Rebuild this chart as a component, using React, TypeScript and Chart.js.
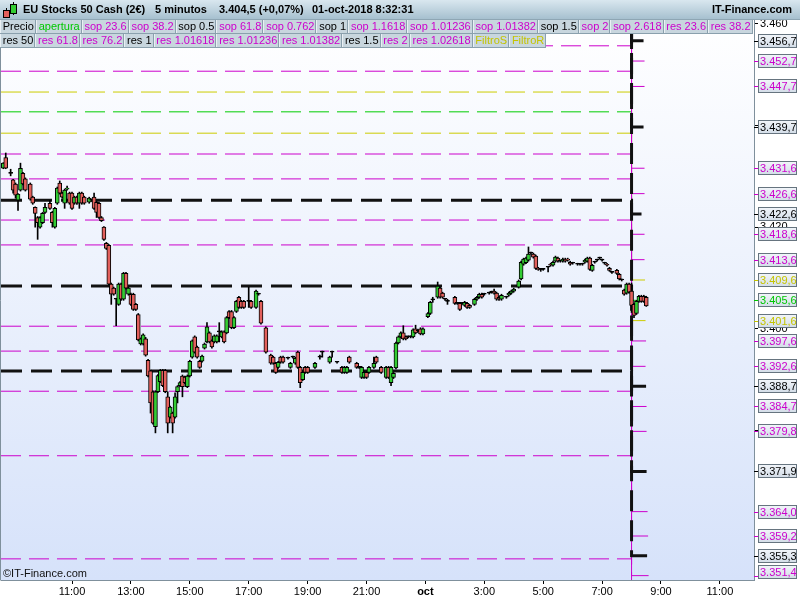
import React, { useEffect, useRef } from 'react';
import { Chart, registerables } from 'chart.js';

Chart.register(...registerables);

const FONT = "'Liberation Sans', Arial, Helvetica, sans-serif";

// ---------- time axis: trading hours counted from Friday 11:00 (Fri 22:00 joins Mon 00:00)
const firstSlotHour = -7 / 3; // Friday 08:40
const slotHours = 1 / 12; // 5 minutes
const xMin = -2.411;
const xMax = 23.158;
const timeTickHours = [0, 2, 4, 6, 8, 10, 12, 14, 16, 18, 20, 22];
const timeTickLabels = ['11:00', '13:00', '15:00', '17:00', '19:00', '21:00', 'oct', '3:00', '5:00', '7:00', '9:00', '11:00'];

// ---------- price axis
const yMin = 3350.54;
const yMax = 3460.78;
const priceTicks = [3460, 3440, 3420, 3400, 3380];

// ---------- support / resistance levels (previous session -> today from 08:00)
const levelSwitchHour = 19; // Monday 08:00
const levelEndHour = 19.6;
const levelKinds = [
  'black', 'black', 'black', 'black', 'black', 'black',
  'magenta', 'magenta', 'magenta', 'magenta', 'magenta', 'magenta', 'magenta', 'magenta',
  'magenta', 'magenta', 'magenta', 'magenta', 'magenta', 'magenta', 'magenta',
  'yellow', 'yellow', 'green',
];
const levelPrev = [
  3493.8, 3476.8, 3460.1, 3425.3, 3408.4, 3391.7,
  3489.8, 3484.8, 3468.7, 3463.7, 3455.7, 3450.7, 3434.4, 3429.5,
  3421.4, 3416.5, 3400.5, 3395.6, 3387.7, 3375.0, 3354.7,
  3446.6, 3438.5, 3442.7,
];
const levelToday = [
  3456.7, 3439.7, 3422.6, 3388.7, 3371.9, 3355.3,
  3452.7, 3447.7, 3431.6, 3426.6, 3418.6, 3413.6, 3397.6, 3392.6,
  3384.7, 3379.8, 3364.0, 3359.2, 3351.4, 3338.0, 3317.6,
  3409.6, 3401.6, 3405.6,
];

// ---------- candles: [slot, open, high, low, close]
const fridayBars: number[][] = [
  [0, 3431.6, 3432.7, 3431.5, 3432.6], [1, 3433.7, 3434.6, 3431.5, 3431.6], [3, 3430.6, 3431.4, 3430.1, 3430.6],
  [4, 3429.3, 3429.4, 3426.7, 3427.3], [5, 3428.5, 3428.7, 3425.7, 3426.3], [6, 3425.3, 3426.6, 3423.3, 3426.5],
  [7, 3427.3, 3432.6, 3427.1, 3431.6], [8, 3430.6, 3430.8, 3428.3, 3428.5], [9, 3429.5, 3429.7, 3427.1, 3427.3],
  [11, 3428.5, 3428.7, 3425.3, 3425.5], [12, 3425.9, 3426.1, 3424.5, 3424.7], [13, 3423.9, 3424.0, 3420.0, 3422.7],
  [14, 3421.9, 3422.1, 3417.6, 3420.9], [15, 3420.0, 3422.1, 3419.8, 3421.9], [16, 3420.9, 3422.9, 3420.7, 3422.7],
  [17, 3422.9, 3424.7, 3422.7, 3423.9], [19, 3424.7, 3425.3, 3423.5, 3423.7], [20, 3422.9, 3423.1, 3420.0, 3420.9],
  [21, 3420.0, 3423.9, 3419.8, 3423.7], [22, 3424.7, 3427.9, 3424.5, 3427.7], [23, 3428.7, 3429.1, 3426.5, 3426.7],
  [24, 3426.7, 3426.9, 3425.7, 3425.9], [25, 3424.7, 3427.5, 3423.7, 3427.3], [26, 3427.5, 3428.1, 3427.3, 3427.7],
  [27, 3426.7, 3426.9, 3424.5, 3424.7], [28, 3426.7, 3426.9, 3423.5, 3423.7], [29, 3424.7, 3426.1, 3424.5, 3425.9],
  [30, 3425.9, 3426.1, 3424.5, 3424.7], [31, 3424.7, 3426.9, 3423.7, 3426.7], [32, 3426.7, 3426.9, 3424.5, 3424.7],
  [33, 3425.9, 3426.1, 3424.5, 3424.7], [35, 3424.9, 3425.9, 3424.7, 3425.7], [36, 3425.3, 3425.5, 3425.1, 3425.3],
  [37, 3425.9, 3426.7, 3423.5, 3423.7], [38, 3424.9, 3425.1, 3421.9, 3422.9], [39, 3424.7, 3424.9, 3421.7, 3421.9],
  [40, 3421.9, 3422.1, 3421.1, 3421.3], [41, 3420.0, 3420.1, 3417.4, 3417.6], [42, 3416.8, 3417.0, 3415.6, 3415.8],
  [43, 3416.4, 3416.6, 3408.6, 3408.8], [44, 3408.8, 3409.0, 3404.8, 3406.8], [45, 3408.0, 3408.2, 3406.6, 3406.8],
  [46, 3405.8, 3406.0, 3400.6, 3405.8], [47, 3404.8, 3409.0, 3404.6, 3408.8], [48, 3408.8, 3409.0, 3405.6, 3405.8],
  [49, 3405.8, 3411.1, 3405.6, 3410.9], [50, 3410.9, 3411.1, 3407.8, 3408.0], [51, 3406.8, 3408.2, 3406.6, 3408.0],
  [52, 3406.8, 3407.0, 3404.6, 3404.8], [53, 3406.8, 3407.0, 3403.6, 3403.8], [54, 3404.8, 3405.0, 3403.6, 3403.8],
  [55, 3402.8, 3403.0, 3397.6, 3397.8], [56, 3397.0, 3398.2, 3396.8, 3398.0], [57, 3397.0, 3399.0, 3396.8, 3398.8],
  [58, 3398.0, 3398.3, 3394.6, 3394.8], [59, 3393.8, 3394.0, 3390.5, 3390.7], [60, 3391.7, 3391.9, 3383.4, 3385.4],
  [61, 3387.6, 3387.8, 3381.2, 3381.4], [62, 3380.7, 3387.8, 3379.5, 3387.6], [63, 3387.6, 3391.0, 3387.4, 3390.8],
  [64, 3389.6, 3392.0, 3389.4, 3391.8], [65, 3391.8, 3392.0, 3388.6, 3388.8], [66, 3391.8, 3392.0, 3387.4, 3387.6],
  [67, 3386.6, 3387.6, 3379.5, 3381.4], [68, 3382.6, 3384.8, 3382.4, 3384.6], [69, 3383.4, 3383.6, 3379.5, 3381.4],
  [70, 3382.6, 3387.4, 3382.4, 3386.6], [71, 3387.6, 3388.8, 3385.4, 3388.6], [72, 3388.8, 3389.6, 3388.6, 3389.4],
  [73, 3390.7, 3390.9, 3386.6, 3388.6], [74, 3390.5, 3390.7, 3389.2, 3389.4], [75, 3388.6, 3390.9, 3388.4, 3390.7],
  [76, 3390.7, 3393.8, 3390.5, 3393.6], [77, 3394.4, 3397.8, 3394.2, 3397.6], [78, 3398.4, 3398.6, 3395.2, 3395.4],
  [79, 3396.4, 3396.6, 3394.2, 3394.4], [80, 3393.6, 3393.8, 3392.2, 3392.4], [81, 3393.6, 3394.8, 3393.4, 3394.6],
  [82, 3396.2, 3397.2, 3396.0, 3397.0], [83, 3397.4, 3401.2, 3397.2, 3400.4], [84, 3399.2, 3399.4, 3397.2, 3397.4],
  [85, 3397.6, 3397.8, 3396.2, 3396.4], [86, 3397.4, 3398.8, 3397.2, 3398.6], [87, 3397.4, 3398.8, 3397.2, 3398.6],
  [88, 3399.4, 3401.2, 3397.4, 3399.4], [89, 3398.4, 3399.6, 3398.2, 3399.4], [90, 3399.4, 3399.6, 3397.2, 3397.4],
  [91, 3399.2, 3402.4, 3399.0, 3402.2], [92, 3403.4, 3403.6, 3402.0, 3402.2], [93, 3403.4, 3403.6, 3400.0, 3400.2],
  [94, 3400.2, 3402.4, 3400.0, 3402.2], [95, 3403.4, 3405.6, 3403.2, 3405.4], [96, 3406.2, 3406.4, 3404.0, 3404.2],
  [97, 3405.4, 3405.6, 3404.0, 3404.2], [98, 3405.4, 3405.6, 3404.0, 3404.2], [100, 3405.4, 3408.2, 3404.2, 3405.4],
  [101, 3405.4, 3405.6, 3404.0, 3404.2], [103, 3404.2, 3407.6, 3404.0, 3407.4], [104, 3406.8, 3407.0, 3406.6, 3406.8],
  [105, 3405.4, 3405.6, 3400.9, 3401.1], [107, 3400.2, 3400.4, 3395.2, 3395.4], [109, 3394.8, 3395.0, 3393.0, 3393.2],
  [110, 3394.4, 3394.6, 3393.0, 3393.2], [111, 3393.2, 3393.4, 3391.2, 3391.4], [112, 3392.4, 3393.6, 3392.2, 3393.4],
  [113, 3394.4, 3394.6, 3393.2, 3393.4], [114, 3394.4, 3394.6, 3393.2, 3393.4], [116, 3394.2, 3394.4, 3394.0, 3394.2],
  [117, 3392.4, 3393.4, 3392.2, 3393.2], [118, 3394.4, 3394.6, 3394.2, 3394.4], [119, 3393.2, 3394.4, 3393.0, 3394.2],
  [120, 3395.4, 3395.6, 3392.2, 3392.4], [121, 3392.4, 3392.6, 3388.4, 3389.4], [122, 3390.0, 3391.6, 3389.8, 3391.4],
  [123, 3392.4, 3392.6, 3391.2, 3391.4], [124, 3392.4, 3392.6, 3391.2, 3391.4], [127, 3392.4, 3393.4, 3392.2, 3393.2],
  [129, 3394.4, 3394.8, 3394.0, 3394.4], [130, 3395.4, 3395.6, 3394.4, 3395.4], [133, 3393.4, 3394.6, 3393.2, 3394.4],
  [134, 3395.4, 3395.6, 3394.4, 3395.4], [136, 3393.4, 3393.6, 3393.2, 3393.4], [138, 3392.4, 3392.6, 3391.2, 3391.4],
  [139, 3391.4, 3392.6, 3391.2, 3392.4], [140, 3391.4, 3392.6, 3391.2, 3392.4], [141, 3394.4, 3394.6, 3393.2, 3393.4],
  [144, 3393.2, 3393.4, 3392.2, 3392.4], [145, 3392.4, 3392.6, 3392.2, 3392.4], [146, 3390.4, 3392.6, 3390.2, 3392.4],
  [147, 3390.4, 3391.6, 3390.2, 3391.4], [148, 3391.4, 3391.6, 3390.2, 3390.4], [149, 3391.4, 3392.6, 3391.2, 3392.4],
  [151, 3392.4, 3394.4, 3392.2, 3393.2], [152, 3394.4, 3394.6, 3393.2, 3393.4], [154, 3392.4, 3392.6, 3391.2, 3391.4],
  [156, 3390.4, 3392.6, 3390.2, 3392.4], [157, 3392.4, 3392.6, 3390.2, 3390.4], [158, 3389.4, 3392.6, 3388.8, 3392.4],
  [159, 3390.4, 3391.4, 3390.2, 3391.2],
];
const mondayBars: number[][] = [
  [160, 3392.3, 3397.4, 3392.1, 3397.2], [161, 3397.2, 3398.6, 3397.0, 3398.4], [162, 3398.4, 3399.4, 3398.2, 3399.2],
  [163, 3399.2, 3400.6, 3397.8, 3398.0], [164, 3398.4, 3398.6, 3397.8, 3398.0], [165, 3398.4, 3398.6, 3398.2, 3398.4],
  [166, 3398.4, 3398.6, 3398.2, 3398.4], [167, 3398.4, 3400.0, 3398.2, 3399.8], [168, 3400.0, 3400.7, 3399.0, 3399.2],
  [169, 3399.6, 3399.8, 3399.4, 3399.6], [170, 3400.0, 3400.2, 3398.8, 3399.0], [171, 3399.0, 3400.2, 3398.8, 3400.0],
  [173, 3402.4, 3403.2, 3402.2, 3403.0], [174, 3403.0, 3405.4, 3402.8, 3405.2], [175, 3405.7, 3406.2, 3405.2, 3405.7],
  [177, 3406.2, 3409.2, 3406.0, 3408.4], [178, 3408.0, 3408.2, 3406.0, 3406.2], [179, 3407.0, 3407.2, 3406.0, 3406.2],
  [180, 3405.8, 3406.0, 3405.6, 3405.8], [181, 3405.4, 3405.8, 3404.8, 3405.4], [184, 3406.2, 3406.4, 3404.8, 3405.0],
  [185, 3405.0, 3405.2, 3404.8, 3405.0], [186, 3405.0, 3405.2, 3403.6, 3403.8], [187, 3405.0, 3405.2, 3404.8, 3405.0],
  [188, 3404.6, 3405.4, 3404.4, 3405.2], [189, 3405.0, 3405.2, 3404.0, 3404.2], [190, 3404.6, 3404.8, 3404.0, 3404.2],
  [192, 3404.8, 3406.0, 3404.6, 3405.8], [193, 3405.8, 3406.4, 3405.6, 3406.2], [194, 3406.2, 3407.0, 3406.0, 3406.8],
  [195, 3406.8, 3407.0, 3406.0, 3406.2], [196, 3406.8, 3407.0, 3406.6, 3406.8], [198, 3407.0, 3407.2, 3406.8, 3407.0],
  [199, 3407.2, 3407.4, 3407.0, 3407.2], [200, 3407.4, 3407.8, 3406.8, 3407.0], [201, 3407.0, 3407.2, 3405.6, 3405.8],
  [202, 3406.2, 3406.4, 3405.6, 3405.8], [203, 3405.8, 3406.8, 3405.6, 3406.6], [205, 3406.2, 3406.4, 3406.0, 3406.2],
  [206, 3406.6, 3407.2, 3406.4, 3407.0], [207, 3407.0, 3407.6, 3406.8, 3407.4], [208, 3407.4, 3408.0, 3407.2, 3407.8],
  [210, 3408.2, 3409.6, 3408.0, 3409.4], [211, 3409.8, 3413.3, 3409.6, 3413.1], [212, 3412.7, 3413.9, 3412.5, 3413.7],
  [213, 3413.0, 3414.1, 3412.8, 3413.9], [214, 3413.5, 3416.1, 3413.3, 3414.7], [215, 3414.9, 3415.1, 3414.7, 3414.9],
  [216, 3414.7, 3414.9, 3413.9, 3414.1], [217, 3414.3, 3414.5, 3411.7, 3411.9], [218, 3411.9, 3412.1, 3411.5, 3411.7],
  [219, 3411.7, 3411.9, 3411.3, 3411.7], [220, 3411.7, 3411.9, 3411.5, 3411.7], [222, 3412.1, 3412.3, 3411.2, 3412.1],
  [223, 3412.7, 3412.9, 3412.3, 3412.5], [224, 3412.5, 3413.3, 3412.3, 3413.1], [225, 3413.3, 3414.3, 3413.1, 3414.1],
  [226, 3413.9, 3414.1, 3413.1, 3413.3], [227, 3413.3, 3413.5, 3413.1, 3413.3], [228, 3413.3, 3413.9, 3413.1, 3413.7],
  [229, 3413.7, 3413.9, 3413.1, 3413.3], [230, 3413.7, 3413.9, 3413.3, 3413.5], [231, 3413.1, 3413.3, 3412.5, 3412.7],
  [232, 3412.9, 3413.1, 3412.7, 3412.9], [234, 3412.7, 3412.9, 3412.5, 3412.7], [235, 3412.7, 3412.9, 3412.5, 3412.7],
  [236, 3412.7, 3412.9, 3412.5, 3412.7], [237, 3413.1, 3413.7, 3412.9, 3413.5], [238, 3413.3, 3414.1, 3413.1, 3413.9],
  [239, 3413.9, 3414.1, 3411.5, 3411.7], [240, 3411.5, 3412.7, 3411.3, 3412.5], [241, 3413.1, 3413.3, 3412.9, 3413.1],
  [242, 3413.5, 3413.7, 3413.3, 3413.5], [243, 3413.9, 3414.1, 3413.7, 3413.9], [244, 3413.5, 3413.7, 3413.3, 3413.5],
  [245, 3412.9, 3413.1, 3412.7, 3412.9], [246, 3412.7, 3412.9, 3412.3, 3412.5], [247, 3411.9, 3412.1, 3411.3, 3411.5],
  [248, 3411.1, 3411.3, 3410.9, 3411.1], [250, 3411.5, 3411.7, 3410.7, 3410.9], [251, 3410.7, 3410.9, 3409.6, 3409.8],
  [252, 3409.6, 3409.8, 3409.4, 3409.6], [253, 3407.6, 3407.8, 3406.6, 3406.8], [254, 3407.0, 3409.0, 3406.8, 3408.8],
  [255, 3408.8, 3409.0, 3407.0, 3407.2], [256, 3407.4, 3409.0, 3403.2, 3404.6], [257, 3404.8, 3405.0, 3402.2, 3402.6],
  [258, 3403.0, 3405.6, 3402.8, 3405.4], [259, 3405.4, 3406.6, 3405.2, 3406.4], [260, 3406.4, 3406.6, 3405.2, 3405.4],
  [261, 3406.4, 3406.6, 3405.2, 3405.4], [262, 3406.2, 3406.4, 3404.4, 3404.5],
];

// ---------- header / legend texts
const legendRow1: [string, string][] = [
  ['Precio', 'black'], ['apertura', 'green'], ['sop 23.6', 'magenta'], ['sop 38.2', 'magenta'], ['sop 0.5', 'black'],
  ['sop 61.8', 'magenta'], ['sop 0.762', 'magenta'], ['sop 1', 'black'], ['sop 1.1618', 'magenta'], ['sop 1.01236', 'magenta'],
  ['sop 1.01382', 'magenta'], ['sop 1.5', 'black'], ['sop 2', 'magenta'], ['sop 2.618', 'magenta'], ['res 23.6', 'magenta'],
  ['res 38.2', 'magenta'],
];
const legendRow2: [string, string][] = [
  ['res 50', 'black'], ['res 61.8', 'magenta'], ['res 76.2', 'magenta'], ['res 1', 'black'], ['res 1.01618', 'magenta'],
  ['res 1.01236', 'magenta'], ['res 1.01382', 'magenta'], ['res 1.5', 'black'], ['res 2', 'magenta'], ['res 1.02618', 'magenta'],
  ['FiltroS', 'yellow'], ['FiltroR', 'yellow'],
];

const lineColor: Record<string, string> = { black: '#111111', magenta: '#cc00cc', yellow: '#cccc00', green: '#00cc00' };
const textColor: Record<string, string> = { black: '#000000', magenta: '#cc00cc', yellow: '#c4c400', green: '#00c800' };
const UP = '#33cc33';
const DOWN = '#e2605c';

function fmtPrice(v: number, d: number): string {
  const s = v.toFixed(d);
  const [i, f] = s.split('.');
  const ii = i.replace(/\B(?=(\d{3})+(?!\d))/g, '.');
  return f ? ii + ',' + f : ii;
}

const slotToHour = (slot: number) => firstSlotHour + slot * slotHours;

const bgPlugin = {
  id: 'bg',
  beforeDraw(chart: any) {
    const { ctx, chartArea: a, width, height } = chart;
    ctx.save();
    ctx.fillStyle = '#ffffff';
    ctx.fillRect(0, 0, width, height);
    const g = ctx.createLinearGradient(0, a.top, 0, a.bottom);
    g.addColorStop(0, '#ffffff');
    g.addColorStop(1, '#d6e2fa');
    ctx.fillStyle = g;
    ctx.fillRect(a.left, a.top, a.right - a.left, a.bottom - a.top);
    ctx.restore();
  },
  afterDraw(chart: any) {
    const { ctx, chartArea: a } = chart;
    const y = chart.scales.y;
    ctx.save();
    ctx.strokeStyle = '#7f909c';
    ctx.lineWidth = 1;
    ctx.beginPath();
    ctx.moveTo(0.5, a.top);
    ctx.lineTo(0.5, a.bottom + 0.5);
    ctx.stroke();
    ctx.font = `11px ${FONT}`;
    ctx.textBaseline = 'middle';
    ctx.textAlign = 'left';
    levelToday.forEach((v, i) => {
      if (v < yMin || v > yMax) return;
      const kind = levelKinds[i];
      const py = Math.round(y.getPixelForValue(v));
      ctx.strokeStyle = textColor[kind];
      ctx.beginPath();
      ctx.moveTo(a.right, Math.min(py, a.bottom) + 0.5);
      ctx.lineTo(a.right + 4, Math.min(py, a.bottom) + 0.5);
      ctx.stroke();
      let top = py - 7;
      top = Math.min(top, a.bottom - 15);
      const left = a.right + 4;
      const w = 39;
      const h = 14;
      const g = ctx.createLinearGradient(0, top, 0, top + h);
      g.addColorStop(0, '#f3f6fa');
      g.addColorStop(1, '#d2dce7');
      ctx.fillStyle = g;
      ctx.fillRect(left, top, w, h);
      ctx.strokeStyle = '#66747f';
      ctx.strokeRect(left + 0.5, top + 0.5, w - 1, h - 1);
      ctx.fillStyle = textColor[kind];
      ctx.fillText(fmtPrice(v, 1), left + 2, top + h / 2 + 0.5);
    });
    ctx.restore();
  },
};

export default function App() {
  const ref = useRef<HTMLCanvasElement | null>(null);

  useEffect(() => {
    if (!ref.current) return;
    const bars = [...fridayBars, ...mondayBars];
    const levelSets = levelKinds.map((kind, i) => ({
      type: 'line' as const,
      data: [
        { x: xMin, y: levelPrev[i] },
        { x: levelSwitchHour, y: levelPrev[i] },
        { x: levelSwitchHour, y: levelToday[i] },
        { x: levelEndHour, y: levelToday[i] },
      ],
      borderColor: lineColor[kind],
      borderWidth: kind === 'black' ? 3 : 1,
      borderDash: kind === 'black' ? [21, 9] : [20, 8],
      pointRadius: 0,
      tension: 0,
      fill: false,
      clip: 0,
      order: kind === 'black' ? 2 : 3,
    }));
    const chart = new Chart(ref.current, {
      type: 'bar',
      data: {
        datasets: [
          {
            type: 'bar',
            data: bars.map((b) => ({ x: slotToHour(b[0]), y: [b[1], b[4]] })),
            backgroundColor: bars.map((b) => (b[4] > b[1] ? UP : b[4] < b[1] ? DOWN : '#000000')),
            borderColor: '#000000',
            borderWidth: 1,
            borderSkipped: false,
            barThickness: 4,
            minBarLength: 1,
            grouped: false,
            order: 0,
          } as any,
          {
            type: 'bar',
            data: bars.map((b) => ({ x: slotToHour(b[0]), y: [b[3], b[2]] })),
            backgroundColor: '#000000',
            borderWidth: 0,
            barThickness: 1,
            grouped: false,
            order: 1,
          } as any,
          ...(levelSets as any[]),
        ],
      },
      options: {
        animation: false,
        responsive: false,
        maintainAspectRatio: false,
        events: [],
        layout: { padding: { left: 1, top: 20, right: 0, bottom: 0 } },
        plugins: { legend: { display: false }, tooltip: { enabled: false } },
        scales: {
          x: {
            type: 'linear',
            position: 'bottom',
            min: xMin,
            max: xMax,
            offset: false,
            afterBuildTicks: (s: any) => {
              s.ticks = timeTickHours.map((v) => ({ value: v }));
            },
            afterFit: (s: any) => {
              s.height = 20;
            },
            grid: { drawOnChartArea: false, drawTicks: true, tickLength: 4, color: '#000000', offset: false },
            border: { display: true, color: '#7f909c' },
            ticks: {
              autoSkip: false,
              maxRotation: 0,
              minRotation: 0,
              padding: 1,
              color: '#000000',
              font: (c: any) => ({
                family: FONT,
                size: 11,
                weight: c.tick && timeTickLabels[timeTickHours.indexOf(c.tick.value)] === 'oct' ? 'bold' : 'normal',
              }),
              callback: (v: any) => {
                const i = timeTickHours.indexOf(Number(v));
                return i >= 0 ? timeTickLabels[i] : '';
              },
            },
          },
          y: {
            type: 'linear',
            position: 'right',
            min: yMin,
            max: yMax,
            afterBuildTicks: (s: any) => {
              s.ticks = priceTicks.map((v) => ({ value: v }));
            },
            afterFit: (s: any) => {
              s.width = 46;
            },
            grid: { drawOnChartArea: false, drawTicks: true, tickLength: 4, color: '#000000' },
            border: { display: true, color: '#7f909c' },
            ticks: {
              padding: 2,
              color: '#000000',
              font: { family: FONT, size: 11 },
              callback: (v: any) => fmtPrice(Number(v), 0),
            },
          },
        },
      } as any,
      plugins: [bgPlugin],
    });
    return () => chart.destroy();
  }, []);

  const cell = (t: string, c: string, i: number) => (
    <div
      key={i}
      style={{
        height: 13,
        lineHeight: '13px',
        padding: '0 1px 0 1.75px',
        borderLeft: '1px solid #eaf0f4',
        borderRight: '1px solid #8aa0ad',
        background: '#c8d6de',
        color: textColor[c],
        whiteSpace: 'nowrap',
        fontSize: 11,
      }}
    >
      {t}
    </div>
  );

  const headText = (t: string, left: number) => (
    <div style={{ position: 'absolute', left, top: 3, fontWeight: 'bold', fontSize: 11, whiteSpace: 'nowrap', color: '#000' }}>{t}</div>
  );

  return (
    <div style={{ position: 'fixed', left: 0, top: 0, width: 800, height: 600, overflow: 'hidden', background: '#fff', fontFamily: FONT }}>
      <canvas ref={ref} width={800} height={600} style={{ position: 'absolute', left: 0, top: 0, width: 800, height: 600 }} />
      <div
        style={{
          position: 'absolute', left: 0, top: 0, width: 800, height: 19,
          background: 'linear-gradient(#d9e7ef, #a6c0cf)', borderBottom: '1px solid #8ea6b4',
        }}
      >
        <div style={{ position: 'absolute', left: 6, top: 8, width: 1, height: 10, background: '#000' }} />
        <div style={{ position: 'absolute', left: 3, top: 10, width: 5, height: 6, background: DOWN, border: '1px solid #000' }} />
        <div style={{ position: 'absolute', left: 13, top: 2, width: 1, height: 13, background: '#000' }} />
        <div style={{ position: 'absolute', left: 10, top: 4, width: 5, height: 8, background: UP, border: '1px solid #000' }} />
        {headText('EU Stocks 50 Cash (2€)', 23)}
        {headText('5 minutos', 155)}
        {headText('3.404,5 (+0,07%)', 219)}
        {headText('01-oct-2018 8:32:31', 312)}
        <div style={{ position: 'absolute', right: 8, top: 3, fontWeight: 'bold', fontSize: 11, whiteSpace: 'nowrap' }}>IT-Finance.com</div>
      </div>
      <div style={{ position: 'absolute', left: 0, top: 20, display: 'flex', borderBottom: '1px solid #8aa0ad' }}>
        {legendRow1.map(([t, c], i) => cell(t, c, i))}
      </div>
      <div style={{ position: 'absolute', left: 0, top: 34, display: 'flex', borderBottom: '1px solid #8aa0ad' }}>
        {legendRow2.map(([t, c], i) => cell(t, c, i))}
      </div>
      <div style={{ position: 'absolute', left: 3, top: 567, fontSize: 11, color: '#111', whiteSpace: 'nowrap' }}>©IT-Finance.com</div>
    </div>
  );
}
